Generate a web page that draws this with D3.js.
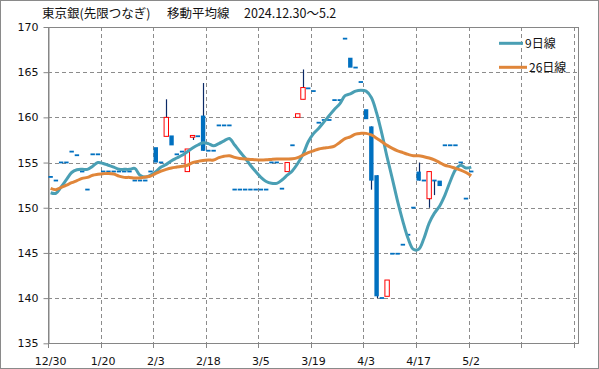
<!DOCTYPE html>
<html><head><meta charset="utf-8">
<script src="https://cdn.jsdelivr.net/npm/d3@7"></script>
<style>
body{margin:0;background:#fff;}
svg{display:block;}
</style></head>
<body>
<script>
// ---- data ----
const dates = ["12/30","1/6","1/7","1/8","1/9","1/10","1/14","1/15","1/16","1/17",
"1/20","1/21","1/22","1/23","1/24","1/27","1/28","1/29","1/30","1/31",
"2/3","2/4","2/5","2/6","2/7","2/10","2/12","2/13","2/14","2/17",
"2/18","2/19","2/20","2/21","2/25","2/26","2/27","2/28","3/3","3/4",
"3/5","3/6","3/7","3/10","3/11","3/12","3/13","3/14","3/17","3/18",
"3/19","3/21","3/24","3/25","3/26","3/27","3/28","3/31","4/1","4/2",
"4/3","4/4","4/7","4/8","4/9","4/10","4/11","4/14","4/15","4/16",
"4/17","4/18","4/21","4/22","4/23","4/24","4/25","4/28","4/30","5/1","5/2"];
const tickLabels = ["12/30","1/20","2/3","2/18","3/5","3/19","4/3","4/17","5/2","",""];
const openP = [153.4,153.0,155.0,155.0,156.2,155.8,154.0,152.0,155.9,155.9,
154.0,154.0,154.0,154.0,154.0,154.0,153.0,153.0,153.0,154.0,
156.7,155.0,157.9,158.0,155.9,156.2,154.0,157.8,157.9,160.2,
156.3,156.3,159.1,159.1,159.1,152.0,152.0,152.0,152.0,152.0,
152.0,152.0,155.0,155.0,152.1,154.0,156.9,160.0,162.0,163.2,
162.9,159.4,159.7,159.7,161.9,161.9,168.7,166.6,165.5,163.9,
160.9,159.0,153.6,140.0,140.2,144.9,144.9,145.9,147.0,150.0,
154.0,153.0,151.0,153.0,153.0,156.9,156.9,156.9,155.0,151.0,154.0];
const highP = [153.4,153.0,155.0,155.0,156.2,155.8,154.0,152.0,155.9,155.9,
154.0,154.0,154.0,154.0,154.0,154.0,153.0,153.0,153.0,154.0,
156.7,155.0,162.0,158.0,155.9,156.2,156.5,158.0,157.9,163.8,
156.3,156.3,159.1,159.1,159.1,152.0,152.0,152.0,152.0,152.0,
152.0,152.0,155.0,155.0,152.1,155.0,156.9,160.4,165.3,163.2,
162.9,159.4,159.7,159.7,161.9,161.9,168.7,166.6,165.5,163.9,
160.9,159.0,153.6,140.0,142.0,144.9,144.9,145.9,147.0,150.0,
155.0,153.0,154.0,153.0,153.0,156.9,156.9,156.9,155.0,151.0,154.0];
const lowP = [153.4,153.0,155.0,155.0,156.2,155.8,154.0,152.0,155.9,155.9,
154.0,154.0,154.0,154.0,154.0,154.0,153.0,153.0,153.0,154.0,
155.0,155.0,157.9,156.9,155.9,156.2,154.0,157.5,157.9,156.3,
156.3,156.3,159.1,159.1,159.1,152.0,152.0,152.0,152.0,152.0,
152.0,152.0,155.0,155.0,152.1,154.0,156.9,160.0,162.0,163.2,
162.9,159.4,159.7,159.7,161.9,161.9,168.7,165.5,165.5,163.9,
159.8,152.0,140.0,140.0,140.2,144.9,144.9,145.9,147.0,150.0,
153.0,153.0,150.0,151.4,152.4,156.9,156.9,156.9,155.0,151.0,154.0];
const closeP = [153.4,153.0,155.0,155.0,156.2,155.8,154.0,152.0,155.9,155.9,
154.0,154.0,154.0,154.0,154.0,154.0,153.0,153.0,153.0,154.0,
155.0,155.0,160.0,156.9,155.9,156.2,156.5,158.0,157.9,156.3,
156.3,156.3,159.1,159.1,159.1,152.0,152.0,152.0,152.0,152.0,
152.0,152.0,155.0,155.0,152.1,155.0,156.9,160.4,163.3,163.2,
162.9,159.4,159.7,159.7,161.9,161.9,168.7,165.5,165.5,163.9,
159.8,153.0,140.2,140.0,142.0,144.9,144.9,145.9,147.0,150.0,
153.0,153.0,154.0,153.0,152.4,156.9,156.9,156.9,155.0,151.0,154.0];
const ma9 = [151.66,151.6,152.3,153.1,153.9,154.2,154.25,154.25,154.6,155.0,
154.9,154.7,154.5,154.25,154.25,154.25,154.35,153.6,153.4,153.6,
154.0,154.5,154.8,155.2,155.5,155.8,156.2,156.6,156.94,157.2,
157.1,156.85,157.1,157.4,157.67,156.94,156.2,155.5,154.7,154.0,
153.36,152.9,152.7,152.7,153.07,153.6,154.1,154.9,155.9,157.3,
158.2,158.8,159.5,160.2,160.9,161.5,162.4,162.6,162.9,163.0,
162.9,162.2,160.5,158.2,155.6,153.2,150.7,148.5,146.6,145.4,
145.4,146.6,148.3,149.4,150.2,151.4,152.9,154.2,154.7,154.4,154.5];
const ma26 = [152.14,152.0,152.25,152.5,152.77,153.0,153.25,153.36,153.6,153.7,
153.77,153.8,153.73,153.5,153.36,153.36,153.3,153.3,153.4,153.5,
153.8,154.06,154.25,154.4,154.5,154.6,154.7,155.0,155.13,155.24,
155.28,155.28,155.54,155.7,155.76,155.57,155.46,155.39,155.35,155.3,
155.28,155.3,155.35,155.39,155.4,155.4,155.42,155.55,155.83,156.1,
156.3,156.5,156.6,156.68,156.83,157.23,157.64,157.85,158.15,158.23,
158.23,158.05,157.7,157.3,156.9,156.57,156.3,156.1,155.9,155.76,
155.76,155.65,155.5,155.3,155.0,154.7,154.55,154.36,154.17,153.9,153.55];
const seriesNames = ["9日線","26日線"];
const yTicks = [135,140,145,150,155,160,165,170];
const titleParts = ["東京銀(先限つなぎ)","移動平均線","2024.12.30～5.2"];

// ---- chart ----
const W = 599, H = 369;
const L = 48, R = 579, T = 27, B = 343.3;
const nSlots = 101;
const svg = d3.select("body").append("svg").attr("width", W).attr("height", H);
svg.append("rect").attr("x",0.5).attr("y",0.5).attr("width",W-1).attr("height",H-1)
  .attr("fill","#fff").attr("stroke","#8a8a8a");

const x = d3.scaleBand().domain(d3.range(nSlots)).range([L, R]).padding(0);
const y = d3.scaleLinear().domain([135,170]).range([B, T]);
const bw = x.bandwidth();
const cx = i => x(i) + bw/2;

// horizontal gridlines
svg.append("g").selectAll("line").data(yTicks.filter(v => v>135 && v<170)).join("line")
  .attr("x1",L).attr("x2",R).attr("y1",d=>Math.round(y(d))+0.5).attr("y2",d=>Math.round(y(d))+0.5)
  .attr("stroke","#8c8c8c").attr("stroke-dasharray","4,3");
// vertical gridlines
const vt = d3.range(1, 11).map(k => k*10);
svg.append("g").selectAll("line").data(vt).join("line")
  .attr("x1",d=>Math.round(x(d))+0.5).attr("x2",d=>Math.round(x(d))+0.5).attr("y1",T).attr("y2",B)
  .attr("stroke","#8c8c8c").attr("stroke-dasharray","4,3");

// plot border
svg.append("rect").attr("x",L+0.5).attr("y",Math.round(T)+0.5).attr("width",R-L-1).attr("height",Math.round(B)-Math.round(T))
  .attr("fill","none").attr("stroke","#868686");

// y axis
const yAxis = d3.axisLeft(y).tickValues(yTicks).tickSize(5).tickSizeOuter(0).tickFormat(d3.format("d"));
const gy = svg.append("g").attr("transform",`translate(${L+0.5},0)`).call(yAxis);
gy.select(".domain").attr("stroke","#868686");
gy.selectAll(".tick line").attr("stroke","#868686");
gy.selectAll(".tick text").attr("x",-10).attr("font-family","DejaVu Sans").attr("font-size","11px").attr("fill","#111");

// x axis: ticks at every 10th boundary, labels at category centers
const xt = d3.range(0, 11).map(k => k*10);
const gx = svg.append("g");
gx.append("line").attr("x1",L).attr("x2",R).attr("y1",Math.round(B)+0.5).attr("y2",Math.round(B)+0.5).attr("stroke","#868686");
gx.selectAll("line.tk").data(xt).join("line").attr("class","tk")
  .attr("x1",d=>Math.round(x(d))+0.5).attr("x2",d=>Math.round(x(d))+0.5)
  .attr("y1",Math.round(B)).attr("y2",Math.round(B)+5).attr("stroke","#868686");
gx.selectAll("text").data(xt).join("text")
  .attr("x",(d,k)=>cx(d)).attr("y",365).attr("text-anchor","middle")
  .attr("font-family","DejaVu Sans").attr("font-size","11px").attr("fill","#111")
  .text((d,k)=>tickLabels[k]);

// candles
const idx = d3.range(dates.length);
const cw = 4.4;
const cg = svg.append("g");
cg.selectAll("line.wick").data(idx.filter(i => highP[i] > Math.max(openP[i],closeP[i]) || lowP[i] < Math.min(openP[i],closeP[i]))).join("line")
  .attr("class","wick")
  .attr("x1",i=>Math.round(cx(i))+0.5).attr("x2",i=>Math.round(cx(i))+0.5)
  .attr("y1",i=>y(highP[i])).attr("y2",i=>y(lowP[i]))
  .attr("stroke","#0b2a66").attr("stroke-width",1.2);
cg.selectAll("rect.c").data(idx).join("rect").attr("class","c")
  .attr("x",i=>cx(i)-cw/2)
  .attr("width",cw)
  .attr("y",i=>{ const t=y(Math.max(openP[i],closeP[i])); const h=Math.abs(y(openP[i])-y(closeP[i])); return h<1.8 ? t-1 : t; })
  .attr("height",i=>Math.max(1.8, Math.abs(y(openP[i])-y(closeP[i]))))
  .attr("fill",i=> closeP[i] > openP[i] ? "#fff" : "#0070c0")
  .attr("stroke",i=> closeP[i] > openP[i] ? "#ff0000" : "none")
  .attr("stroke-width",1);

// moving averages
const line = d3.line().x((d,i)=>cx(i)).y(d=>y(d)).curve(d3.curveCatmullRom.alpha(0.5));
const colors = ["#4a9fb4","#e0863a"];
[ma9, ma26].forEach((s,k) => {
  svg.append("path").datum(s).attr("d",line).attr("fill","none")
    .attr("stroke",colors[k]).attr("stroke-width",3).attr("stroke-linejoin","round");
});

// legend
const lg = svg.append("g");
[[43.3, 499, 523, 525],[67.3, 499, 527, 529]].forEach((p,k)=>{
  lg.append("line").attr("x1",p[1]).attr("x2",p[2]).attr("y1",p[0]).attr("y2",p[0])
    .attr("stroke",colors[k]).attr("stroke-width",3);
  lg.append("text").attr("x",p[3]).attr("y",p[0]+4.5)
    .attr("font-family","Noto Sans CJK JP").attr("font-size","12px").attr("fill","#111")
    .text(seriesNames[k]);
});

// title
const tt = svg.append("text").attr("y",18).attr("font-family","Noto Sans CJK JP").attr("font-size","12.5px").attr("fill","#111");
tt.append("tspan").attr("x",42).text(titleParts[0]);
tt.append("tspan").attr("x",167).text(titleParts[1]);
tt.append("tspan").attr("x",244).text(titleParts[2]);
</script>
</body></html>
